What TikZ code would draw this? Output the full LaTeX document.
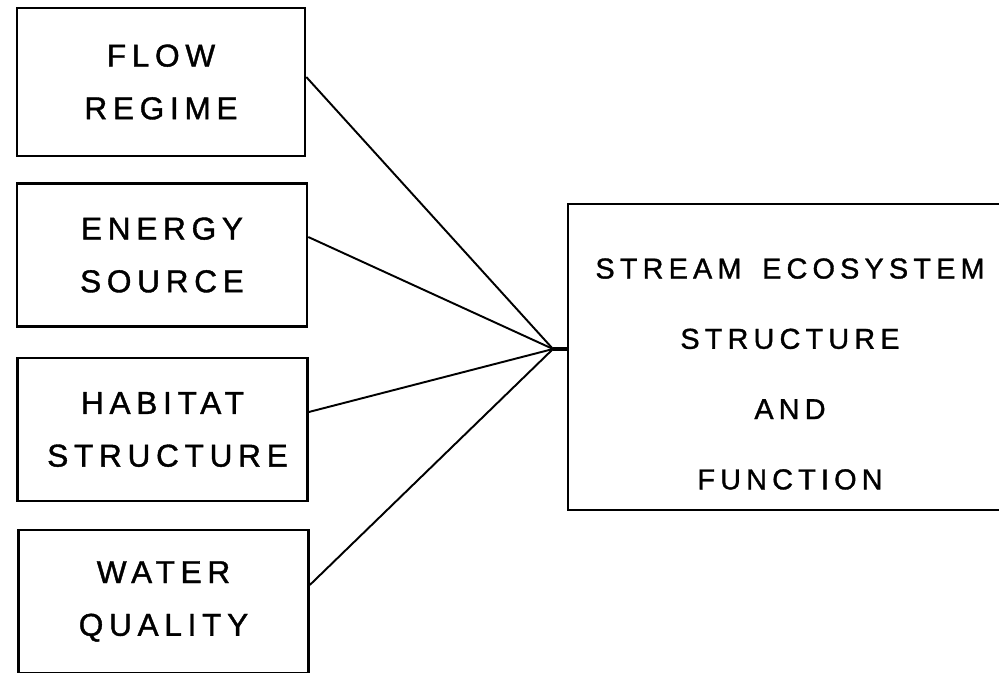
\documentclass[tikz,border=0pt]{standalone}
\usepackage{fontspec}
\setmainfont{Liberation Sans}[LetterSpace=18,FakeBold=1.2]
\usetikzlibrary{positioning,calc}

\begin{document}
\begin{tikzpicture}[
  x=0.02cm,y=-0.02cm,
  factor/.style={draw,rectangle,line width=1.5pt,minimum width=5.8cm,minimum height=2.86cm,
                 align=center,font=\fontsize{18}{30}\selectfont,inner sep=0pt},
  ecobox/.style={draw,rectangle,line width=1.5pt,minimum width=8.88cm,minimum height=6.12cm},
  ecotext/.style={align=center,font=\fontsize{16.4}{40}\selectfont,inner sep=0pt},
  link/.style={line width=1.1pt},
]
  \useasboundingbox (0,0) rectangle (999,672);

  % Factor boxes on the left
  \node[factor,minimum width=5.76cm,minimum height=2.96cm] (flow) at (161,82) {FLOW\\REGIME};
  \node[factor] (energy)  at (162,255) {ENERGY\\SOURCE};
  \node[factor] (habitat) at (162.5,429.5) {HABITAT\\\hspace*{0.2cm}STRUCTURE};
  \node[factor] (water)   at (163.5,601.5) {WATER\\QUALITY};

  % Ecosystem box on the right
  \node[ecobox] (eco) at (790,357) {};
  \node[ecotext] (ecolabel) at ([yshift=-0.34cm]eco.center)
    {STREAM\hspace{0.15cm} ECOSYSTEM\\STRUCTURE\\AND\\FUNCTION};

  % Connectors
  \coordinate (hub) at (553,349);
  \draw[link] ([yshift=0.1cm]flow.east) -- (hub);
  \draw[link] ([yshift=0.36cm]energy.east) -- (hub);
  \draw[link] ([yshift=0.35cm]habitat.east) -- (hub);
  \draw[link] ([yshift=0.33cm]water.east) -- (hub);
  \draw[line width=2pt] (hub) -- (hub -| eco.west);
\end{tikzpicture}
\end{document}
